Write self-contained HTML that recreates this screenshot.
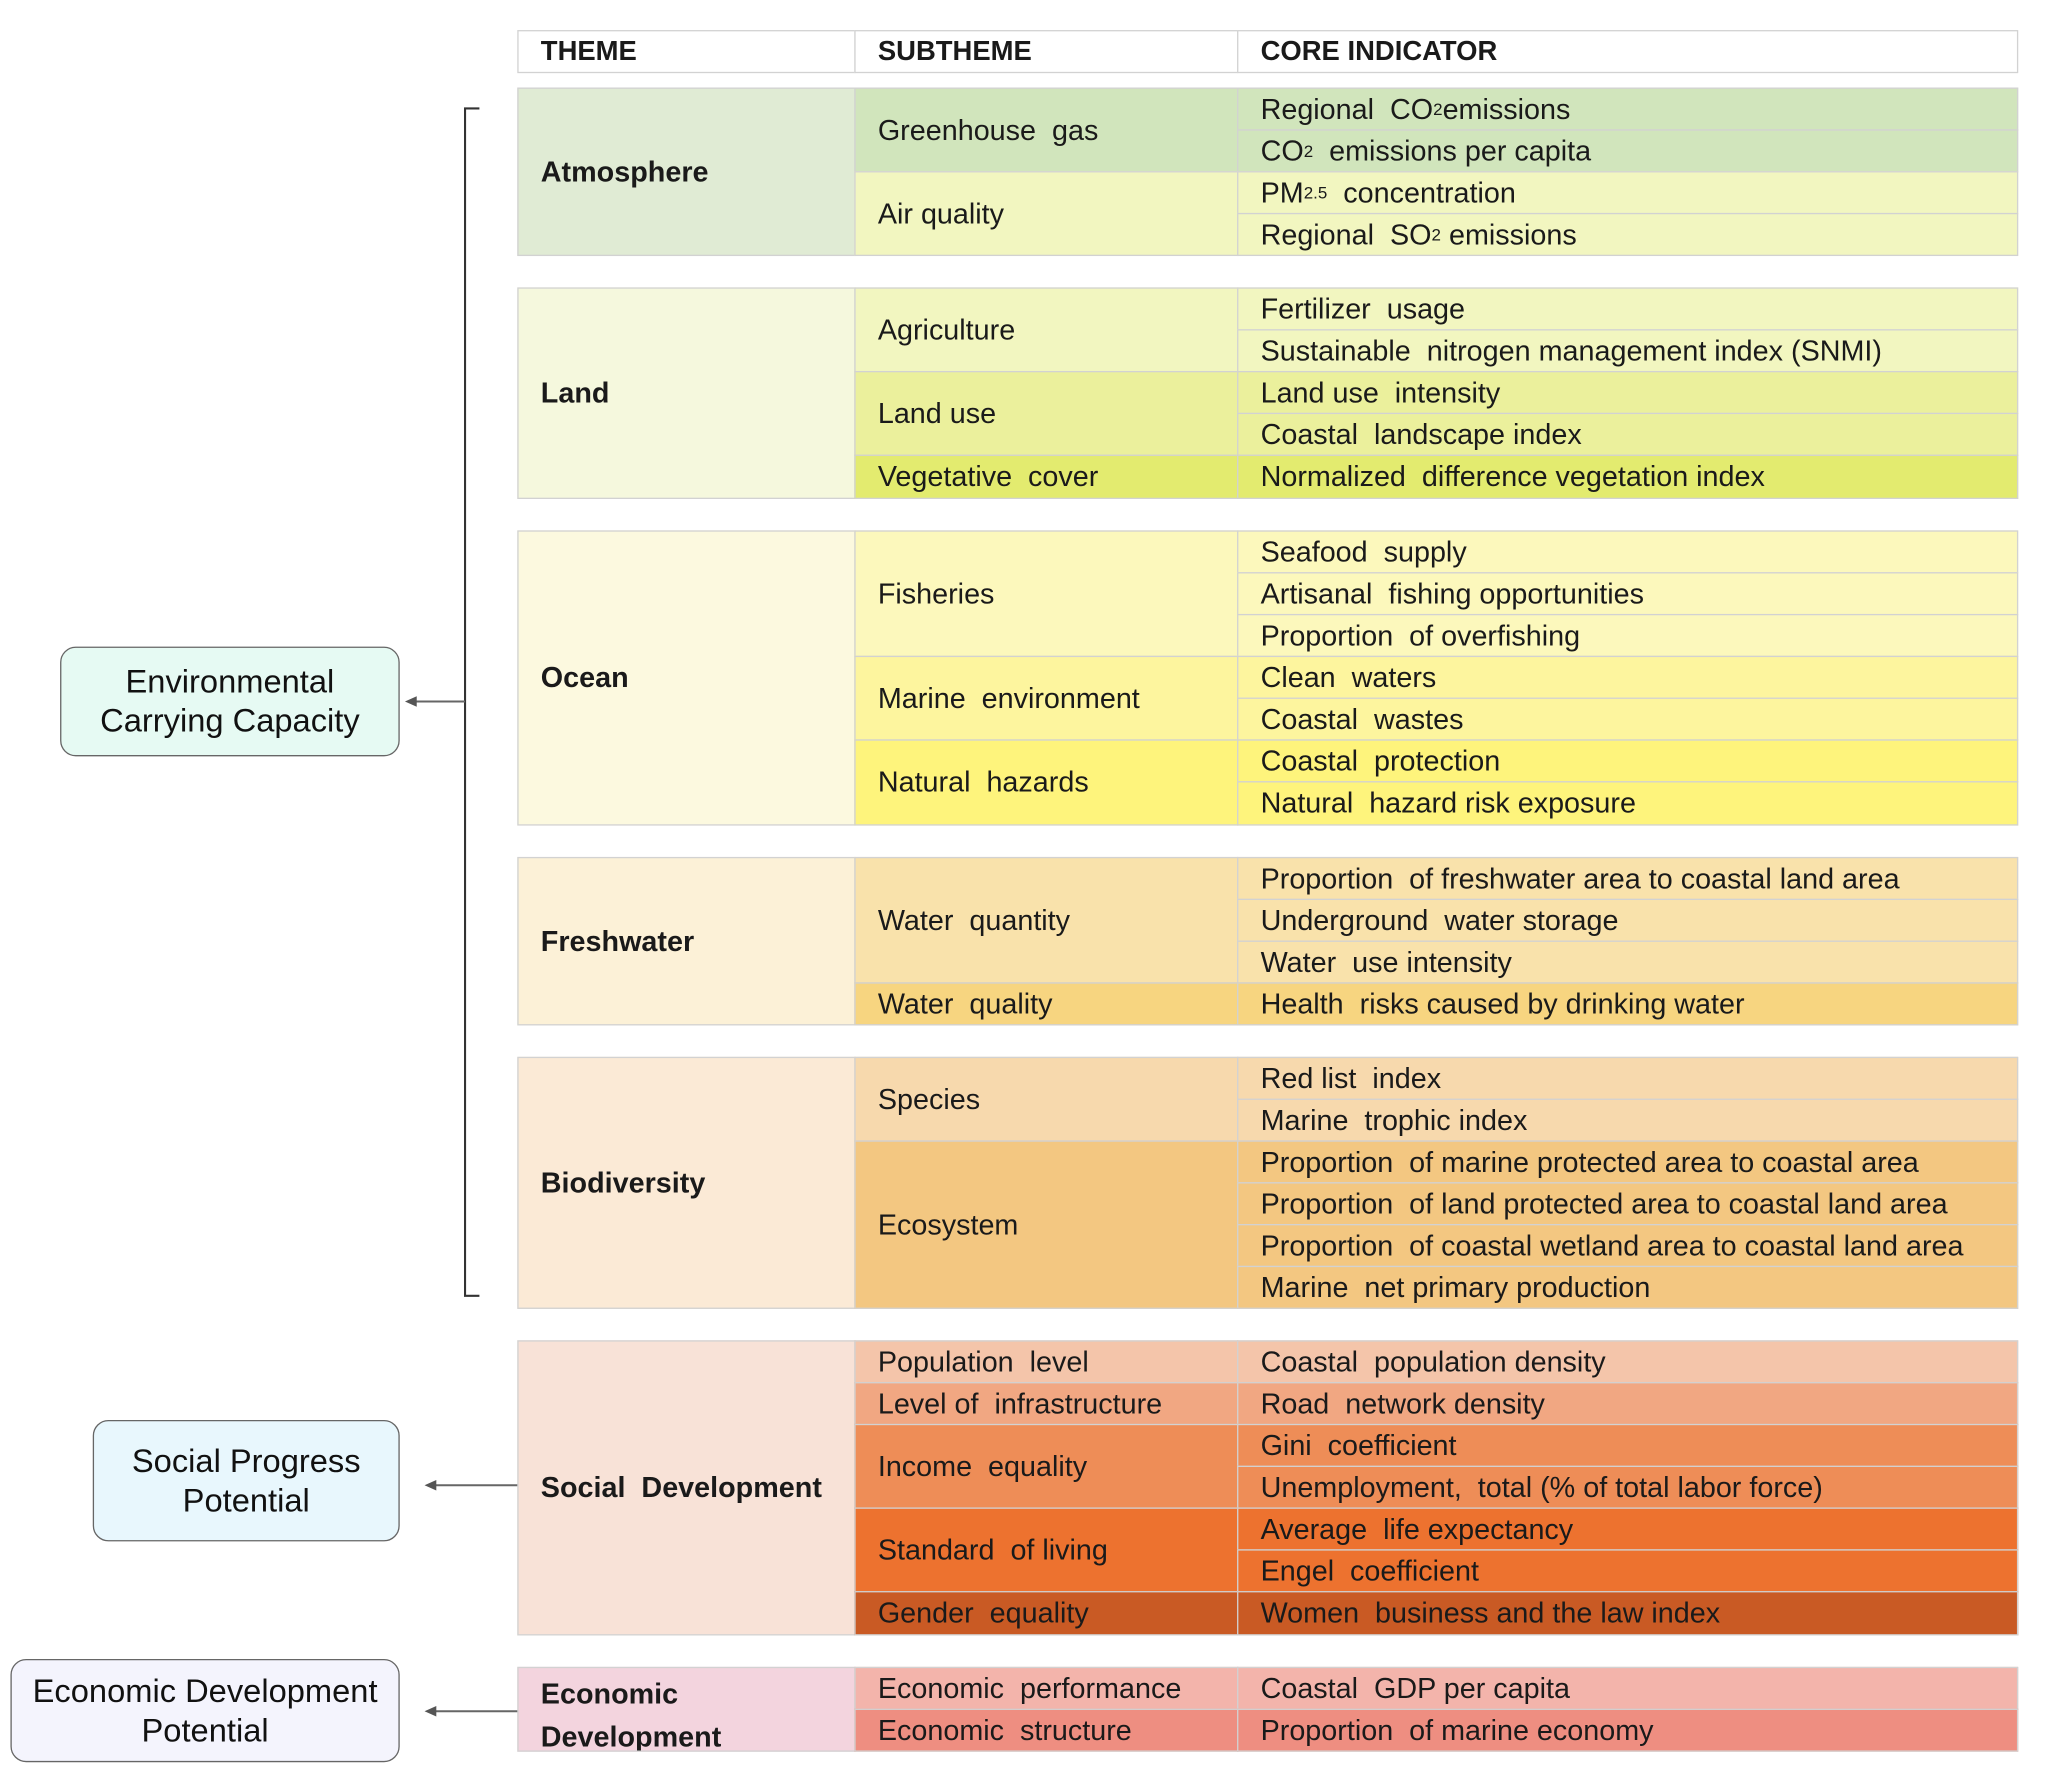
<!DOCTYPE html>
<html><head><meta charset="utf-8">
<style>
html,body{margin:0;padding:0;background:#fff;}
body{width:2048px;height:1781px;overflow:hidden;position:relative;}
#w{position:absolute;left:0;top:0;width:1560px;height:1357px;transform:scale(1.3063);transform-origin:0 0;}
.c{position:absolute;box-sizing:border-box;border:1px solid #d2d2d2;display:flex;align-items:center;padding-left:17px;
font-family:"Liberation Sans Narrow","Liberation Sans",sans-serif;font-size:22px;color:#1a1a1a;white-space:pre;overflow:hidden;}
.t{font-weight:bold;font-size:22px;}
.h{font-weight:bold;font-size:21px;background:#fff;}
sub{font-size:13px;vertical-align:-2px;line-height:0;}
.box{position:absolute;box-sizing:border-box;border:1.3px solid #666;border-radius:12px;display:flex;align-items:center;justify-content:center;text-align:center;
font-family:"Liberation Sans",sans-serif;font-size:25px;line-height:30px;color:#111;}
</style></head><body><div id="w">
<div class="c h" style="left:396px;top:23px;width:259px;height:33px">THEME</div>
<div class="c h" style="left:654px;top:23px;width:294px;height:33px">SUBTHEME</div>
<div class="c h" style="left:947px;top:23px;width:598px;height:33px">CORE INDICATOR</div>

<div class="c t" style="left:396px;top:67px;width:259px;height:129px;background:#e0ebd4">Atmosphere</div>
<div class="c" style="left:654px;top:67px;width:294px;height:65px;background:#d1e5bc">Greenhouse  gas</div>
<div class="c" style="left:654px;top:131px;width:294px;height:65px;background:#f2f6c0">Air quality</div>
<div class="c" style="left:947px;top:67px;width:598px;height:33px;background:#d1e5bc">Regional  CO<sub>2</sub>emissions</div>
<div class="c" style="left:947px;top:99px;width:598px;height:33px;background:#d1e5bc">CO<sub>2</sub>  emissions per capita</div>
<div class="c" style="left:947px;top:131px;width:598px;height:33px;background:#f2f6c0">PM<sub>2.5</sub>  concentration</div>
<div class="c" style="left:947px;top:163px;width:598px;height:33px;background:#f2f6c0">Regional  SO<sub>2</sub> emissions</div>

<div class="c t" style="left:396px;top:220px;width:259px;height:162px;background:#f5f8dd">Land</div>
<div class="c" style="left:654px;top:220px;width:294px;height:65px;background:#f2f6c0">Agriculture</div>
<div class="c" style="left:654px;top:284px;width:294px;height:65px;background:#ebf09c">Land use</div>
<div class="c" style="left:654px;top:348px;width:294px;height:34px;background:#e3eb6f">Vegetative  cover</div>
<div class="c" style="left:947px;top:220px;width:598px;height:33px;background:#f2f6c0">Fertilizer  usage</div>
<div class="c" style="left:947px;top:252px;width:598px;height:33px;background:#f2f6c0">Sustainable  nitrogen management index (SNMI)</div>
<div class="c" style="left:947px;top:284px;width:598px;height:33px;background:#ebf09c">Land use  intensity</div>
<div class="c" style="left:947px;top:316px;width:598px;height:33px;background:#ebf09c">Coastal  landscape index</div>
<div class="c" style="left:947px;top:348px;width:598px;height:34px;background:#e3eb6f">Normalized  difference vegetation index</div>

<div class="c t" style="left:396px;top:406px;width:259px;height:226px;background:#fcf9df">Ocean</div>
<div class="c" style="left:654px;top:406px;width:294px;height:97px;background:#fcf8bc">Fisheries</div>
<div class="c" style="left:654px;top:502px;width:294px;height:65px;background:#fdf59e">Marine  environment</div>
<div class="c" style="left:654px;top:566px;width:294px;height:66px;background:#fef47c">Natural  hazards</div>
<div class="c" style="left:947px;top:406px;width:598px;height:33px;background:#fcf8bc">Seafood  supply</div>
<div class="c" style="left:947px;top:438px;width:598px;height:33px;background:#fcf8bc">Artisanal  fishing opportunities</div>
<div class="c" style="left:947px;top:470px;width:598px;height:33px;background:#fcf8bc">Proportion  of overfishing</div>
<div class="c" style="left:947px;top:502px;width:598px;height:33px;background:#fdf59e">Clean  waters</div>
<div class="c" style="left:947px;top:534px;width:598px;height:33px;background:#fdf59e">Coastal  wastes</div>
<div class="c" style="left:947px;top:566px;width:598px;height:33px;background:#fef47c">Coastal  protection</div>
<div class="c" style="left:947px;top:598px;width:598px;height:34px;background:#fef47c">Natural  hazard risk exposure</div>

<div class="c t" style="left:396px;top:656px;width:259px;height:129px;background:#fcf1d7">Freshwater</div>
<div class="c" style="left:654px;top:656px;width:294px;height:97px;background:#f9e2ab">Water  quantity</div>
<div class="c" style="left:654px;top:752px;width:294px;height:33px;background:#f7d580">Water  quality</div>
<div class="c" style="left:947px;top:656px;width:598px;height:33px;background:#f9e2ab">Proportion  of freshwater area to coastal land area</div>
<div class="c" style="left:947px;top:688px;width:598px;height:33px;background:#f9e2ab">Underground  water storage</div>
<div class="c" style="left:947px;top:720px;width:598px;height:33px;background:#f9e2ab">Water  use intensity</div>
<div class="c" style="left:947px;top:752px;width:598px;height:33px;background:#f7d580">Health  risks caused by drinking water</div>

<div class="c t" style="left:396px;top:809px;width:259px;height:193px;background:#fbead6">Biodiversity</div>
<div class="c" style="left:654px;top:809px;width:294px;height:65px;background:#f7d9ad">Species</div>
<div class="c" style="left:654px;top:873px;width:294px;height:129px;background:#f3c781">Ecosystem</div>
<div class="c" style="left:947px;top:809px;width:598px;height:33px;background:#f7d9ad">Red list  index</div>
<div class="c" style="left:947px;top:841px;width:598px;height:33px;background:#f7d9ad">Marine  trophic index</div>
<div class="c" style="left:947px;top:873px;width:598px;height:33px;background:#f3c781">Proportion  of marine protected area to coastal area</div>
<div class="c" style="left:947px;top:905px;width:598px;height:33px;background:#f3c781">Proportion  of land protected area to coastal land area</div>
<div class="c" style="left:947px;top:937px;width:598px;height:33px;background:#f3c781">Proportion  of coastal wetland area to coastal land area</div>
<div class="c" style="left:947px;top:969px;width:598px;height:33px;background:#f3c781">Marine  net primary production</div>

<div class="c t" style="left:396px;top:1026px;width:259px;height:226px;background:#f8e2d7">Social  Development</div>
<div class="c" style="left:654px;top:1026px;width:294px;height:33px;background:#f4c5aa">Population  level</div>
<div class="c" style="left:654px;top:1058px;width:294px;height:33px;background:#f1a782">Level of  infrastructure</div>
<div class="c" style="left:654px;top:1090px;width:294px;height:65px;background:#ee8d57">Income  equality</div>
<div class="c" style="left:654px;top:1154px;width:294px;height:65px;background:#ed722f">Standard  of living</div>
<div class="c" style="left:654px;top:1218px;width:294px;height:34px;background:#c95a24">Gender  equality</div>
<div class="c" style="left:947px;top:1026px;width:598px;height:33px;background:#f4c5aa">Coastal  population density</div>
<div class="c" style="left:947px;top:1058px;width:598px;height:33px;background:#f1a782">Road  network density</div>
<div class="c" style="left:947px;top:1090px;width:598px;height:33px;background:#ee8d57">Gini  coefficient</div>
<div class="c" style="left:947px;top:1122px;width:598px;height:33px;background:#ee8d57">Unemployment,  total (% of total labor force)</div>
<div class="c" style="left:947px;top:1154px;width:598px;height:33px;background:#ed722f">Average  life expectancy</div>
<div class="c" style="left:947px;top:1186px;width:598px;height:33px;background:#ed722f">Engel  coefficient</div>
<div class="c" style="left:947px;top:1218px;width:598px;height:34px;background:#c95a24">Women  business and the law index</div>

<div class="c t" style="left:396px;top:1276px;width:259px;height:65px;background:#f3d4de;white-space:normal;line-height:33px;align-items:flex-start;padding-top:3px">Economic<br>Development</div>
<div class="c" style="left:654px;top:1276px;width:294px;height:33px;background:#f3b4ab">Economic  performance</div>
<div class="c" style="left:654px;top:1308px;width:294px;height:33px;background:#ee8e81">Economic  structure</div>
<div class="c" style="left:947px;top:1276px;width:598px;height:33px;background:#f3b4ab">Coastal  GDP per capita</div>
<div class="c" style="left:947px;top:1308px;width:598px;height:33px;background:#ee8e81">Proportion  of marine economy</div>

<div class="box" style="left:46px;top:495px;width:260px;height:84px;background:#e6faf3">Environmental<br>Carrying Capacity</div>
<div class="box" style="left:71px;top:1087px;width:235px;height:93px;background:#e8f7fd">Social Progress<br>Potential</div>
<div class="box" style="left:8px;top:1270px;width:298px;height:79px;background:#f4f4fd">Economic Development<br>Potential</div>

<svg style="position:absolute;left:0;top:0" width="1560" height="1357">
<g stroke="#333" stroke-width="1.6" fill="none">
<path d="M367 83 H356 V992 H367"/>
</g>
<g stroke="#666" stroke-width="1.6" fill="#555">
<line x1="356" y1="537" x2="316" y2="537"/>
<polygon points="310,537 319,533 319,541" stroke="none"/>
<line x1="396" y1="1137" x2="331" y2="1137"/>
<polygon points="325,1137 334,1133 334,1141" stroke="none"/>
<line x1="396" y1="1310" x2="331" y2="1310"/>
<polygon points="325,1310 334,1306 334,1314" stroke="none"/>
</g>
</svg>
</div></body></html>
